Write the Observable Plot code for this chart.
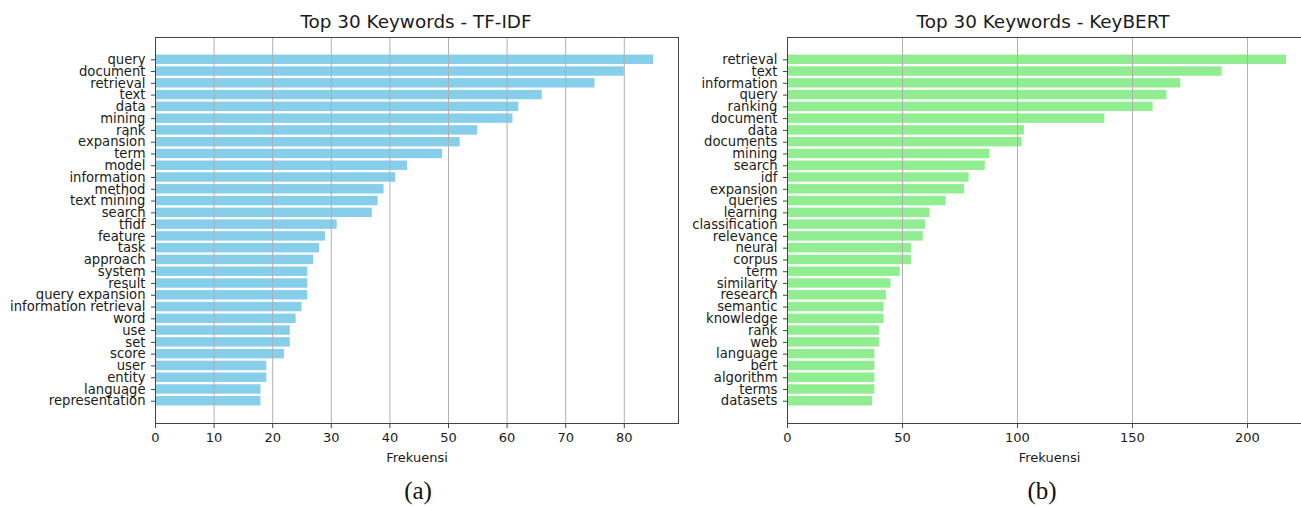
<!DOCTYPE html>
<html>
<head>
<meta charset="utf-8">
<script src="https://cdn.jsdelivr.net/npm/d3@7"></script>
<script src="https://cdn.jsdelivr.net/npm/@observablehq/plot@0.6"></script>
<style>
  html, body { margin: 0; padding: 0; background: #fff; }
  body { width: 1301px; height: 507px; overflow: hidden; position: relative; font-family: "DejaVu Sans", sans-serif; }
  .panel { position: absolute; top: 0; }
  .panel svg { max-width: none !important; }
  .title { position: absolute; font-family: "DejaVu Sans", sans-serif; font-size: 18.4px; line-height: 22px; color: #1a1a1a; white-space: nowrap; transform: translateX(-50%); }
  .sub { position: absolute; font-family: "Liberation Serif", "DejaVu Serif", serif; font-size: 25px; line-height: 28px; color: #111; transform: translateX(-50%); }
</style>
</head>
<body>
<div id="left" class="panel" style="left:0px; width:690px;"></div>
<div id="right" class="panel" style="left:690px; width:631px;"></div>
<div class="title" style="left:416px; top:11px;">Top 30 Keywords - TF-IDF</div>
<div class="title" style="left:1043px; top:11px;">Top 30 Keywords - KeyBERT</div>
<div class="sub" style="left:418px; top:477px;">(a)</div>
<div class="sub" style="left:1042px; top:477px;">(b)</div>
<script>
const tfidfTerms = ["query","document","retrieval","text","data","mining","rank","expansion","term","model","information","method","text mining","search","tfidf","feature","task","approach","system","result","query expansion","information retrieval","word","use","set","score","user","entity","language","representation"];
const tfidfCounts = [85,80,75,66,62,61,55,52,49,43,41,39,38,37,31,29,28,27,26,26,26,25,24,23,23,22,19,19,18,18];
const tfidfTicks = [0,10,20,30,40,50,60,70,80];

const keybertTerms = ["retrieval","text","information","query","ranking","document","data","documents","mining","search","idf","expansion","queries","learning","classification","relevance","neural","corpus","term","similarity","research","semantic","knowledge","rank","web","language","bert","algorithm","terms","datasets"];
const keybertCounts = [217,189,171,165,159,138,103,102,88,86,79,77,69,62,60,59,54,54,49,45,43,42,42,40,40,38,38,38,38,37];
const keybertTicks = [0,50,100,150,200];

function chart(terms, counts, ticks, color, width, ml, mr) {
  const data = terms.map((t, i) => ({term: t, count: counts[i]}));
  const xmax = d3.max(counts) * 1.05;
  return Plot.plot({
    width, height: 470,
    marginLeft: ml, marginRight: mr, marginTop: 37, marginBottom: 47,
    style: {fontFamily: "DejaVu Sans", fontSize: "13px", color: "#1a1a1a", background: "transparent", overflow: "visible", maxWidth: "none"},
    x: {domain: [0, xmax], round: false},
    y: {domain: terms, paddingInner: 0.2, paddingOuter: 1.49, align: 0.5, round: false},
    marks: [
      Plot.barX(data, {x: "count", y: "term", fill: color}),
      Plot.gridX(ticks, {stroke: "#b0b0b0", strokeOpacity: 1, strokeWidth: 1}),
      Plot.frame({stroke: "#444", strokeWidth: 1}),
      Plot.axisX(ticks, {tickSize: 5, tickPadding: 4, fontSize: 13, label: "Frekuensi", labelAnchor: "center", labelArrow: "none", labelOffset: 38, stroke: "#444"}),
      Plot.axisY({tickSize: 4, tickPadding: 6, fontSize: 13.2, label: null, stroke: "#444"})
    ]
  });
}

document.getElementById("left").append(chart(tfidfTerms, tfidfCounts, tfidfTicks, "#87ceeb", 690, 155, 12));
document.getElementById("right").append(chart(keybertTerms, keybertCounts, keybertTicks, "#90ee90", 631, 97, 10));
</script>
</body>
</html>
